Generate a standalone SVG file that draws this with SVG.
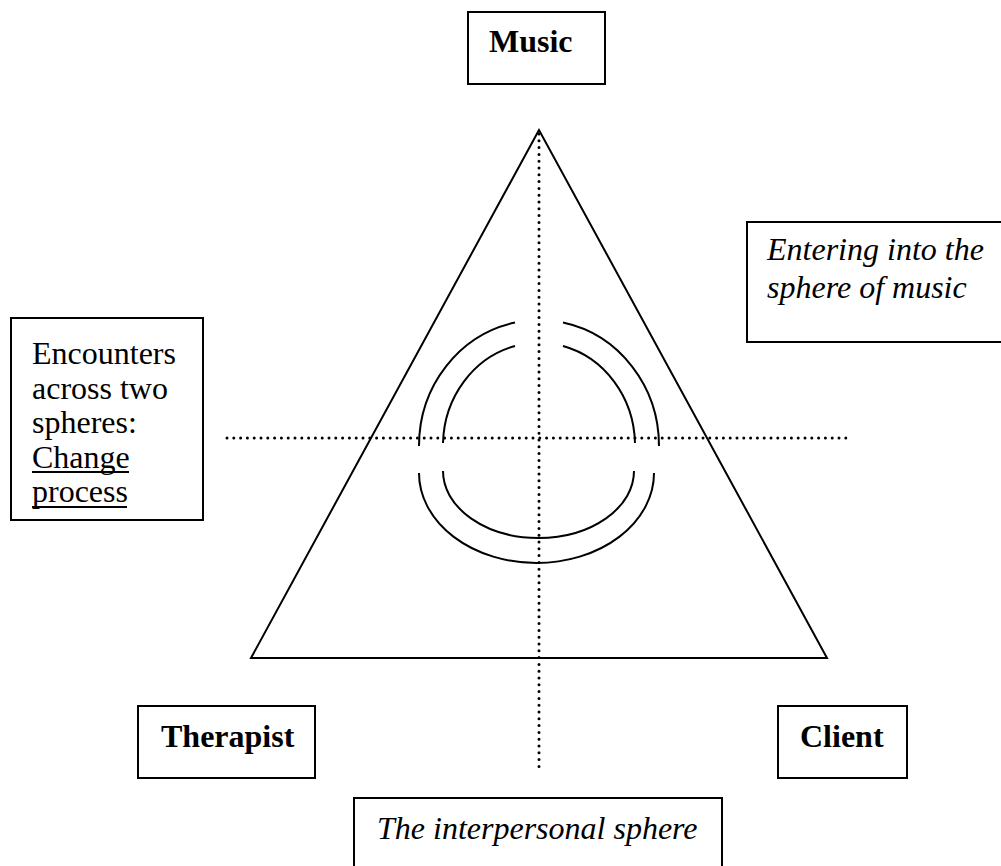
<svg xmlns="http://www.w3.org/2000/svg" width="1001" height="866" viewBox="0 0 1001 866">
<style>
.box{fill:#fff;stroke:#000;stroke-width:2}
.t{font-family:"Liberation Serif","Times New Roman",serif;font-size:32px;fill:#000}
.b{font-weight:bold}
.i{font-style:italic}
.line{fill:none;stroke:#000;stroke-width:2}
.dot{fill:none;stroke:#000;stroke-width:3;stroke-dasharray:0 6.8;stroke-linecap:round}
.u{stroke:#000;stroke-width:2}
</style>
<rect width="1001" height="866" fill="#fff"/>
<g id="connectors">
<polygon class="line" points="539,130 251,658 827,658"/>
<line class="dot" x1="539" y1="134" x2="539" y2="772"/>
<line class="dot" x1="227" y1="438" x2="848" y2="438"/>
<path class="line" d="M515,322.5 A120,126 0 0 0 419,446"/>
<path class="line" d="M563,322.5 A120,126 0 0 1 659,446"/>
<path class="line" d="M515,346 A96,103 0 0 0 443,443"/>
<path class="line" d="M563,346 A96,103 0 0 1 635,443"/>
<path class="line" d="M419,473 A117.5,90 0 0 0 654,473"/>
<path class="line" d="M443,471 A95.5,67 0 0 0 634,471"/>
</g>
<g id="music">
<rect class="box" x="468" y="12" width="137" height="72"/>
<text class="t b" x="489" y="52">Music</text>
</g>
<g id="entering">
<rect class="box" x="747" y="222" width="270" height="120"/>
<text class="t i" x="767" y="260">Entering into the</text>
<text class="t i" x="767" y="298">sphere of music</text>
</g>
<g id="encounters">
<rect class="box" x="11" y="318" width="192" height="202"/>
<text class="t" x="32" y="364">Encounters</text>
<text class="t" x="32" y="398.5">across two</text>
<text class="t" x="32" y="433">spheres:</text>
<text class="t" x="32" y="467.5">Change</text>
<text class="t" x="32" y="502">process</text>
<line class="u" x1="32" y1="472" x2="129" y2="472"/>
<line class="u" x1="32" y1="507" x2="127" y2="507"/>
</g>
<g id="therapist">
<rect class="box" x="138" y="706" width="177" height="72"/>
<text class="t b" x="161" y="747">Therapist</text>
</g>
<g id="client">
<rect class="box" x="778" y="706" width="129" height="72"/>
<text class="t b" x="800" y="747">Client</text>
</g>
<g id="interpersonal">
<rect class="box" x="354" y="798" width="368" height="80"/>
<text class="t i" x="377" y="839">The interpersonal sphere</text>
</g>
</svg>
